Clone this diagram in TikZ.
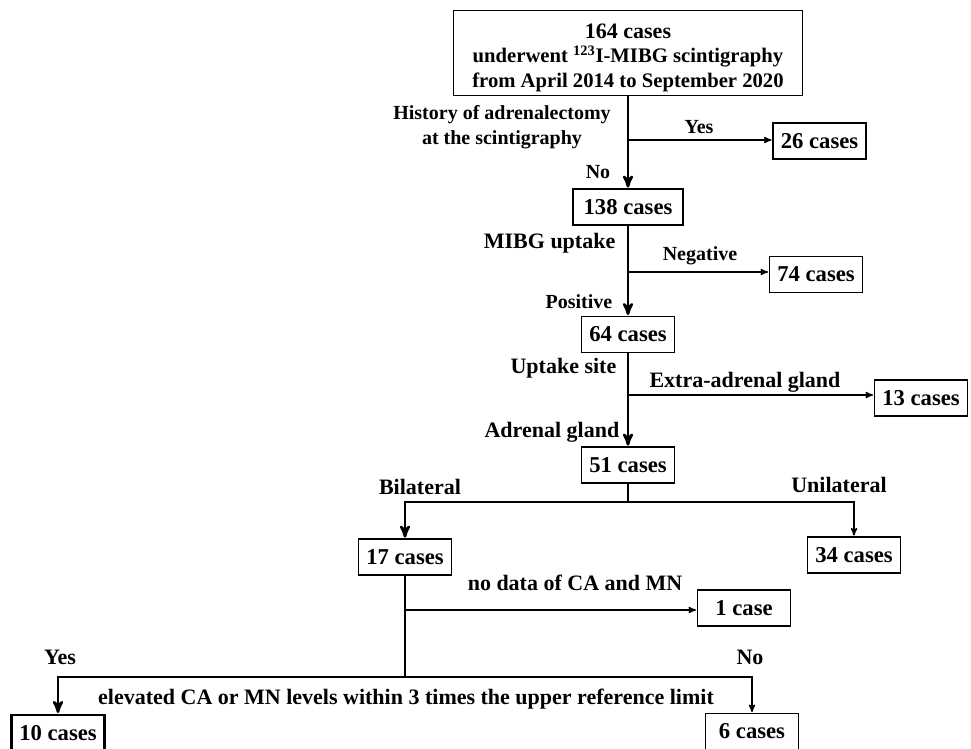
\documentclass[tikz,border=0pt]{standalone}
\usepackage{fontspec}
\setmainfont{Liberation Serif}
\usetikzlibrary{arrows,calc,positioning}
\tikzset{
flow/.style={>=stealth',shorten >=0.5pt,x=0.75pt,y=-0.75pt,
    font=\fontsize{15}{18.75}\selectfont\bfseries},
biglbl/.style={font=\fontsize{16.5}{19}\selectfont\bfseries},
case/.style={draw,line width=1.1pt,minimum width=70pt,minimum height=27pt,inner sep=2pt,
    font=\fontsize{17}{20}\selectfont\bfseries},
final/.style={case,line width=2pt},
trunk/.style={line width=2pt},
branch/.style={line width=1pt},
}

\begin{document}
\begin{tikzpicture}[flow]
    \useasboundingbox (0,0) rectangle (971,749);

    % boxes
    \node[case,minimum width=262pt,minimum height=64pt,align=center,
        font=\fontsize{15.5}{18.4}\selectfont\bfseries] (c164) at (628,53)
        {\rule{0pt}{18pt}{\fontsize{16.5}{18.4}\selectfont 164 cases}\\underwent \textsuperscript{123}I-MIBG scintigraphy\\from April 2014 to September 2020};
    \node[case] (c26) at (819.5,141) {26 cases};
    \node[case,minimum width=82.5pt] (c138) at (628,207) {138 cases};
    \node[case] (c74) at (816,274.5) {74 cases};
    \node[case] (c64) at (628,334.5) {64 cases};
    \node[case] (c13) at (921,398) {13 cases};
    \node[case] (c51) at (628,465) {51 cases};
    \node[case] (c17) at (405,557) {17 cases};
    \node[case] (c34) at (854,555) {34 cases};
    \node[case] (c1) at (744,608) {1 case};
    \node[final] (c10) at (58,733) {10 cases};
    \node[case] (c6) at (752,731.5) {6 cases};

    % labels
    \node[align=center] (hist) at (502,127) {History of adrenalectomy\\at the scintigraphy};
    \node (yes1) at (699,127) {Yes};
    \node (no1) at (598,172) {No};
    \node[biglbl,anchor=east] (mibg) at (620,243) {MIBG uptake};
    \node (neg) at (700,256) {Negative};
    \node[anchor=east] (pos) at (617,302) {Positive};
    \node[biglbl,anchor=east] (site) at (621,368) {Uptake site};
    \node[biglbl] (extra) at (745,382) {Extra-adrenal gland};
    \node[biglbl,anchor=east] (adr) at (624,432) {Adrenal gland};
    \node[biglbl] (bil) at (420,487) {Bilateral};
    \node[biglbl] (uni) at (839,485) {Unilateral};
    \node[biglbl,anchor=east] (nodata) at (687,583) {no data of CA and MN};
    \node[biglbl] (yes2) at (60,657) {Yes};
    \node[biglbl] (no2) at (750,657) {No};
    \node[biglbl] (elev) at (406,699) {elevated CA or MN levels within 3 times the upper reference limit};

    % branch points
    \coordinate (b1) at (628,140);
    \coordinate (b2) at (628,272);
    \coordinate (b3) at (628,395);
    \coordinate (b4) at (628,502);
    \coordinate (b5) at (405,610);
    \coordinate (b6) at (405,677);

    \draw[trunk,->] (c164) -- (c138);
    \draw[trunk,->] (c138) -- (c64);
    \draw[trunk,->] (c64) -- (c51);
    \draw[branch,->] (b1) -- (b1 -| c26.west);
    \draw[branch,->] (b2) -- (b2 -| c74.west);
    \draw[branch,->] (b3) -- (b3 -| c13.west);

    \draw[trunk] (c51) -- (b4);
    \draw[trunk,->] (b4) -| (c17);
    \draw[branch,->] (b4) -| (c34);
    \draw[trunk] (c17) -- (b6);
    \draw[branch,->] (b5) -- (b5 -| c1.west);
    \draw[trunk,->] (b6) -| (c10);
    \draw[branch,->] (b6) -| (c6);
\end{tikzpicture}
\end{document}
